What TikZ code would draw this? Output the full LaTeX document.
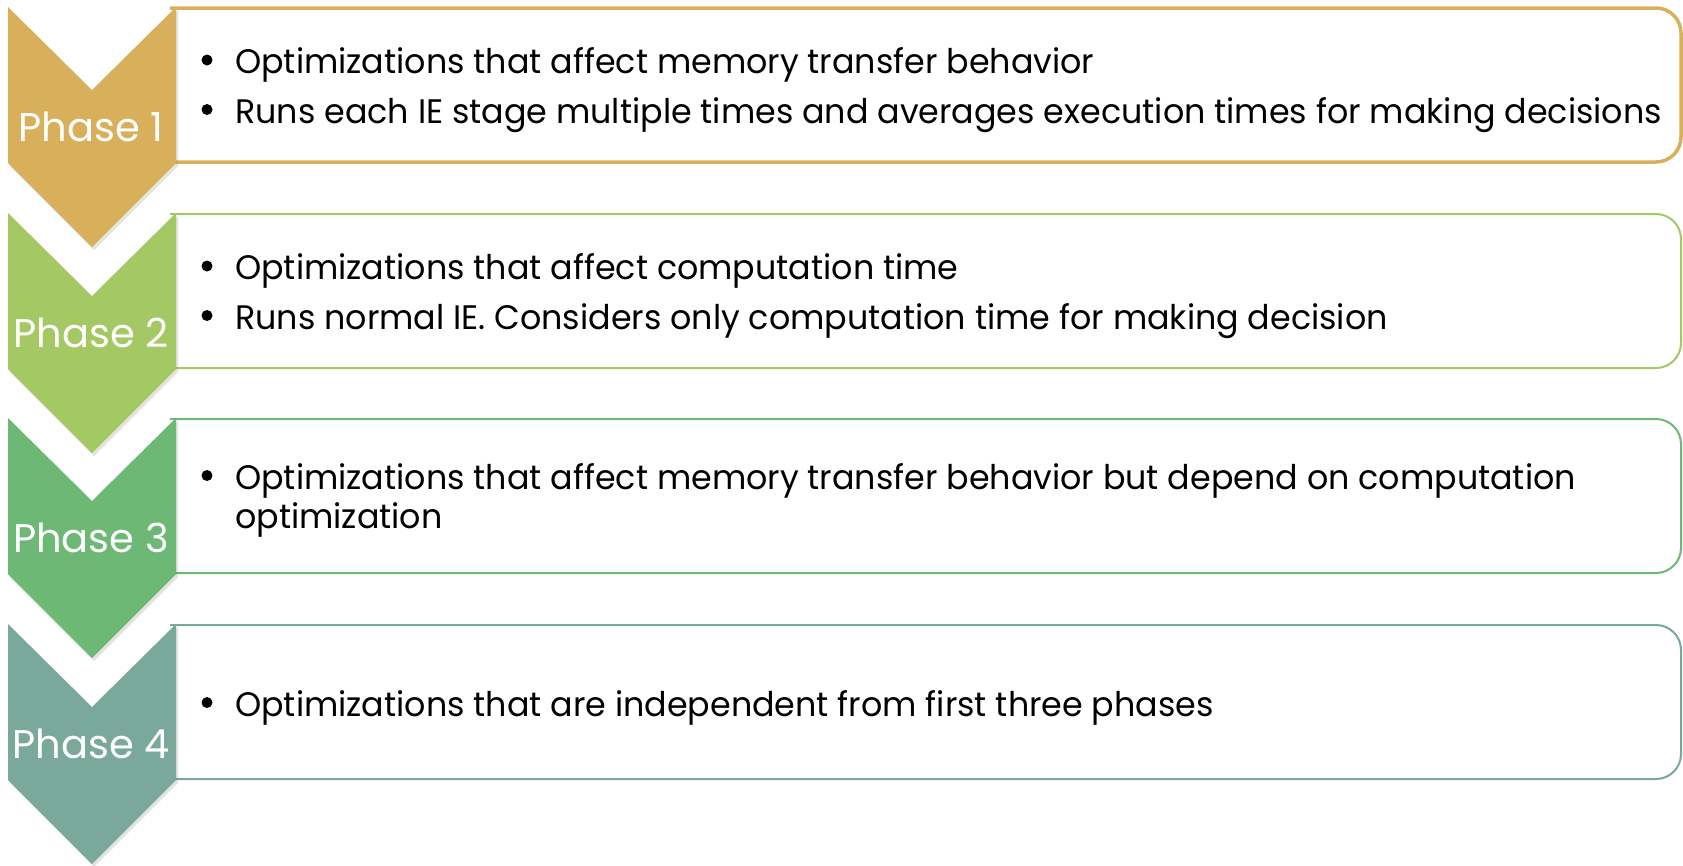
\documentclass[tikz,border=0pt]{standalone}
\usepackage{fontspec}
\setmainfont{Poppins}
\newfontfamily\bodyfont[FakeStretch=0.98]{Poppins}
\usetikzlibrary{shadows}
\definecolor{phaseA}{HTML}{D8B05C}
\definecolor{phaseB}{HTML}{A3C864}
\definecolor{phaseC}{HTML}{6CB874}
\definecolor{phaseD}{HTML}{7AA89B}
\tikzset{
  chevron/.style={fill=#1, drop shadow={shadow xshift=2pt, shadow yshift=-3pt, opacity=0.22}},
  panel/.style={draw=#1, fill=white, rounded corners=25pt},
  phaselabel/.style={text=white, font=\fontsize{40}{48}\selectfont, anchor=base, inner sep=0pt},
  item/.style={anchor=base west, font=\bodyfont\fontsize{34}{40}\selectfont, inner sep=0pt},
  dot/.style={circle, fill=black, inner sep=0pt, minimum size=11pt},
}
\begin{document}
\begin{tikzpicture}[x=1pt, y=-1pt]
\useasboundingbox (0,0) rectangle (1683,865);
% panels and chevrons, one per phase
\foreach \n/\t/\c/\w in {1/7/phaseA/3.5, 2/213/phaseB/2, 3/418/phaseC/2, 4/624/phaseD/2} {
  \draw[panel=\c, line width=\w pt] (170,\t+1) -- (1681,\t+1) -- (1681,\t+155) -- (170,\t+155);
  \fill[chevron=\c] (8,\t) -- (92,\t+83) -- (176,\t) -- (176,\t+156) -- (92,\t+240) -- (8,\t+156) -- cycle;
  \node[phaselabel] (label\n) at (91,\t+134) {Phase \n};
}
% phase 1
\node[dot] (d11) at (207,60) {};
\node[item] (t11) at (235,73.5) {Optimizations that affect memory transfer behavior};
\node[dot] (d12) at (207,109.5) {};
\node[item] (t12) at (235,123) {Runs each IE stage multiple times and averages execution times for making decisions};
% phase 2
\node[dot] (d21) at (207,266) {};
\node[item] (t21) at (235,279.5) {Optimizations that affect computation time};
\node[dot] (d22) at (207,315.5) {};
\node[item] (t22) at (235,329) {Runs normal IE. Considers only computation time for making decision};
% phase 3
\node[dot] (d31) at (207,475.5) {};
\node[item] (t31) at (235,489) {Optimizations that affect memory transfer behavior but depend on computation};
\node[item] (t32) at (235,528.5) {optimization};
% phase 4
\node[dot] (d41) at (207,702.5) {};
\node[item] (t41) at (235,716) {Optimizations that are independent from first three phases};
\end{tikzpicture}
\end{document}
